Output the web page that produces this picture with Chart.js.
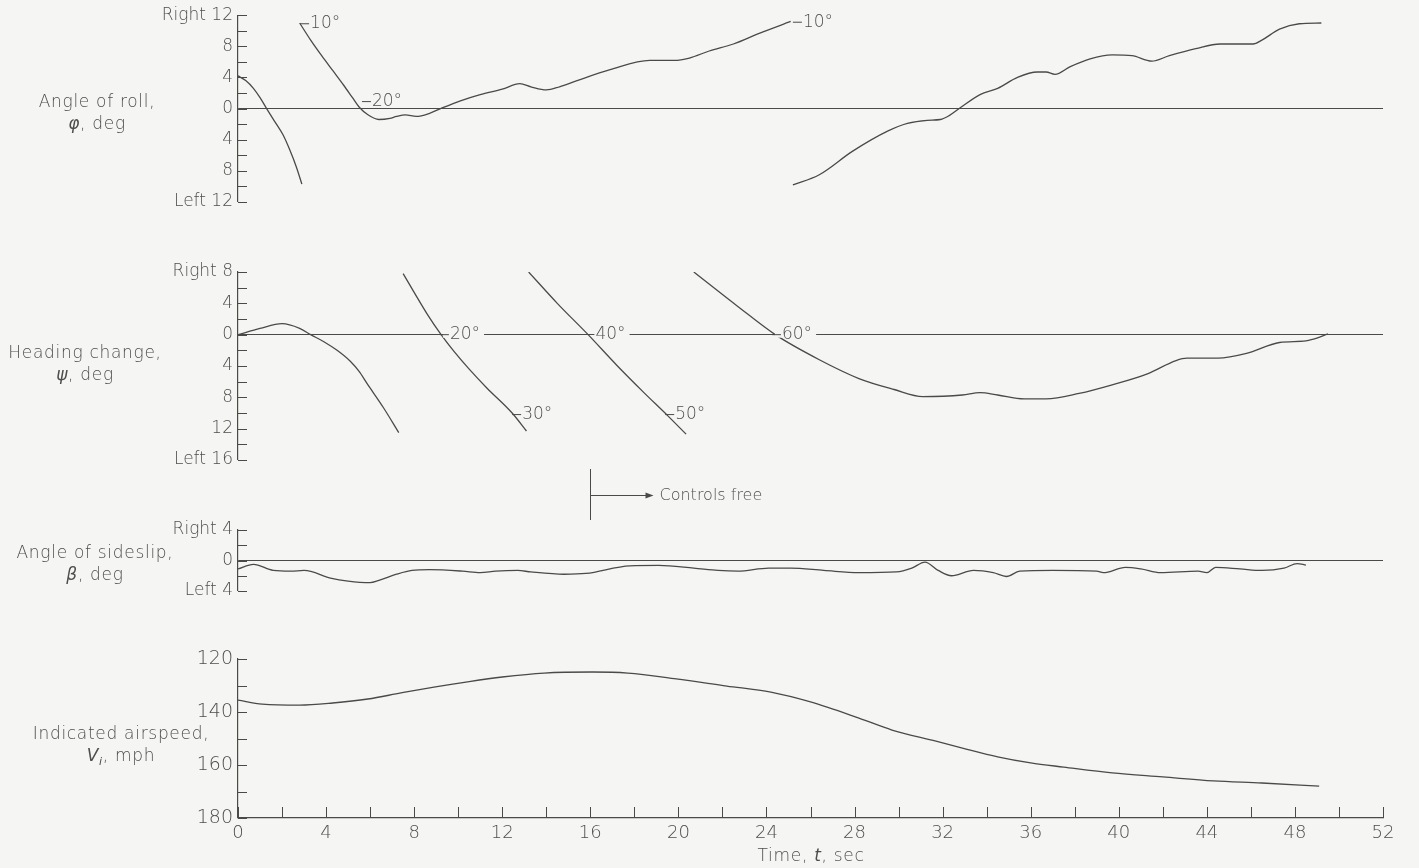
<!DOCTYPE html>
<html>
<head>
<meta charset="utf-8">
<script src="https://cdn.jsdelivr.net/npm/chart.js@4.4.1/dist/chart.umd.min.js"></script>
<style>
  html, body { margin: 0; padding: 0; background: #f5f5f3; }
  #page { position: relative; width: 1419px; height: 868px; overflow: hidden; background: #f5f5f3; }
  #page canvas { position: absolute; left: 0; }
  .lbl {
    position: absolute; text-align: center; color: #4e4e4c;
    font-family: "DejaVu Sans", sans-serif; font-weight: 300;
    font-size: 17px; line-height: 22px; letter-spacing: 0.7px;
  }
  .lbl sub { font-size: 11px; }
</style>
</head>
<body>
<div id="page">
  <canvas id="rollChart" width="1419" height="222" style="top:0px"></canvas>
  <canvas id="headingChart" width="1419" height="232" style="top:250px"></canvas>
  <canvas id="slipChart" width="1419" height="160" style="top:455px"></canvas>
  <canvas id="speedChart" width="1419" height="233" style="top:635px"></canvas>

  <div class="lbl" style="left:7px; top:90px; width:180px;">Angle of roll,<br><i>φ</i>, deg</div>
  <div class="lbl" style="left:0px; top:341px; width:170px;">Heading change,<br><i>ψ</i>, deg</div>
  <div class="lbl" style="left:5px; top:541px; width:180px;">Angle of sideslip,<br><i>β</i>, deg</div>
  <div class="lbl" style="left:21px; top:722px; width:200px;">Indicated airspeed,<br><i>V<sub>i</sub></i>, mph</div>
  <div class="lbl" style="left:711px; top:844px; width:200px;">Time, <i>t</i>, sec</div>
</div>

<script>
// Time axis
const T_MIN = 0, T_MAX = 52;
const CONTROLS_FREE_T = 16;

// Angle of roll, deg (right +, left -) -- three traced segments
const rollT1 = [0, 0.35, 0.7, 1.0, 1.3, 1.7, 2.05, 2.35, 2.65, 2.9];
const rollV1 = [4.2, 3.6, 2.6, 1.4, 0, -1.8, -3.4, -5.3, -7.5, -9.7];
const rollT2 = [2.8, 3.3, 3.8, 4.3, 4.8, 5.2, 5.5, 5.9, 6.4, 6.9, 7.2, 7.6, 8.1, 8.7, 9.2, 10.1, 11.0, 12.0, 12.8, 13.3, 14.0, 14.6, 15.4, 16.9, 18.7, 19.8, 20.5, 21.4, 22.5, 23.7, 25.1];
const rollV2 = [11.0, 8.8, 6.8, 4.9, 3.0, 1.4, 0.2, -0.8, -1.4, -1.25, -1.0, -0.8, -1.0, -0.6, 0.0, 1.0, 1.8, 2.5, 3.2, 2.8, 2.4, 2.8, 3.6, 5.0, 6.2, 6.2, 6.5, 7.4, 8.3, 9.7, 11.2];
const rollT3 = [25.2, 26.4, 27.9, 29.5, 30.4, 31.3, 31.9, 32.3, 32.8, 33.7, 34.5, 35.4, 36.3, 36.7, 37.1, 37.8, 38.7, 39.7, 40.6, 41.5, 42.3, 43.5, 44.6, 46.1, 46.5, 47.3, 48.2, 49.2];
const rollV3 = [-9.8, -8.5, -5.5, -2.9, -1.9, -1.5, -1.4, -0.9, 0.1, 1.8, 2.6, 4.0, 4.7, 4.7, 4.4, 5.4, 6.4, 6.9, 6.8, 6.1, 6.8, 7.7, 8.3, 8.3, 8.8, 10.2, 10.9, 11.0];

// Heading change, deg -- four traced segments
const headT1 = [0, 1.0, 2.0, 2.8, 3.3, 3.9, 4.5, 5.1, 5.5, 5.85, 6.6, 7.3];
const headV1 = [0, 0.8, 1.4, 0.8, 0, -0.9, -2.0, -3.4, -4.7, -6.2, -9.3, -12.5];
const headT2 = [7.5, 8.0, 8.6, 9.2, 9.8, 10.5, 11.3, 12.45, 13.1];
const headV2 = [7.8, 5.4, 2.6, 0.1, -2.1, -4.4, -6.8, -10.0, -12.3];
const headT3 = [13.2, 14.5, 15.9, 17.2, 18.4, 19.5, 20.35];
const headV3 = [8.0, 4.0, 0, -3.9, -7.3, -10.3, -12.7];
const headT4 = [20.7, 22.7, 24.4, 26.4, 28.2, 29.8, 31.1, 32.9, 33.7, 34.5, 35.7, 36.7, 38.2, 39.7, 41.3, 42.6, 43.1, 44.5, 45.8, 47.3, 48.5, 48.8, 49.5];
const headV4 = [8.0, 3.6, 0, -3.2, -5.6, -7.0, -7.9, -7.7, -7.4, -7.7, -8.2, -8.2, -7.5, -6.4, -5.0, -3.3, -3.0, -3.0, -2.4, -1.0, -0.8, -0.6, 0.1];

// Angle of sideslip, deg
const slipT = [0, 0.7, 1.6, 2.4, 3.0, 4.2, 5.0, 6.0, 6.4, 7.2, 7.9, 8.7, 10.2, 11.0, 11.7, 12.7, 13.3, 14.8, 15.8, 17.8, 19.1, 20.7, 21.8, 22.7, 24.1, 25.1, 26.6, 28.2, 29.9, 30.6, 31.2, 31.8, 32.4, 33.4, 34.3, 34.9, 35.5, 37.0, 39.0, 39.3, 40.3, 41.0, 41.9, 43.6, 44.0, 44.4, 45.5, 46.5, 47.5, 48.1, 48.5];
const slipV = [-1.1, -0.5, -1.3, -1.4, -1.3, -2.3, -2.7, -2.9, -2.6, -1.8, -1.3, -1.2, -1.4, -1.6, -1.4, -1.3, -1.5, -1.8, -1.7, -0.7, -0.65, -1.0, -1.3, -1.4, -1.0, -1.0, -1.3, -1.6, -1.5, -1.0, -0.2, -1.3, -2.0, -1.3, -1.6, -2.1, -1.4, -1.3, -1.4, -1.6, -0.9, -1.1, -1.6, -1.4, -1.6, -0.9, -1.1, -1.3, -1.0, -0.4, -0.6];

// Indicated airspeed, mph
const speedT = [0, 1.1, 2.8, 4.3, 5.9, 7.4, 8.9, 10.5, 12.0, 13.9, 16.1, 17.7, 19.9, 22.2, 24.2, 26.0, 28.2, 29.7, 31.7, 32.9, 34.5, 36.0, 37.5, 39.7, 42.0, 44.3, 46.5, 49.1];
const speedV = [135.5, 137, 137.4, 136.6, 135.1, 132.8, 130.6, 128.5, 126.8, 125.3, 124.9, 125.3, 127.5, 130.2, 132.5, 136.2, 142.3, 146.8, 151.0, 153.6, 156.9, 159.2, 160.8, 163, 164.5, 166, 166.8, 168];

// Angle notes written beside the traces (time, value, text)
const rollNotes = [
  { t: 2.82, v: 10.9, text: '10°', dash: true },
  { t: 5.63, v: 0.9, text: '20°', dash: true },
  { t: 25.2, v: 11.1, text: '10°', dash: true }
];
const headNotes = [
  { t: 9.17, v: 0, text: '20°', dash: true, cover: true },
  { t: 12.45, v: -10.2, text: '30°', dash: true },
  { t: 16.05, v: 0, text: '40°', dash: false, cover: true },
  { t: 19.4, v: -10.2, text: '50°', dash: true },
  { t: 24.25, v: 0, text: '60°', dash: true, cover: true }
];

const INK = '#4a4a48';
const TEXT = '#4e4e4c';
const PAPER = '#f5f5f3';
const FONT = '"DejaVu Sans", sans-serif';

function seg(ts, vs) {
  return {
    data: ts.map((t, i) => ({ x: t, y: vs[i] })),
    borderColor: INK,
    borderWidth: 1.3,
    pointRadius: 0,
    fill: false,
    cubicInterpolationMode: 'monotone'
  };
}

// short tick marks drawn inward from the axes, like the original plot
const innerTicks = {
  id: 'innerTicks',
  afterDraw(chart) {
    const ctx = chart.ctx;
    const xs = chart.scales.x, ys = chart.scales.y;
    ctx.save();
    ctx.strokeStyle = INK;
    ctx.lineWidth = 1;
    ctx.beginPath();
    ys.ticks.forEach(tk => {
      const py = Math.round(ys.getPixelForValue(tk.value)) + 0.5;
      ctx.moveTo(ys.right, py);
      ctx.lineTo(ys.right + 9, py);
    });
    if (xs.options.display) {
      xs.ticks.forEach(tk => {
        const px = Math.round(xs.getPixelForValue(tk.value)) + 0.5;
        ctx.moveTo(px, xs.top);
        ctx.lineTo(px, xs.top - 11);
      });
    }
    ctx.stroke();
    ctx.restore();
  }
};

const angleNotes = {
  id: 'angleNotes',
  afterDatasetsDraw(chart, args, opts) {
    const notes = opts.notes || [];
    const ctx = chart.ctx;
    const xs = chart.scales.x, ys = chart.scales.y;
    ctx.save();
    ctx.font = '300 17px ' + FONT;
    ctx.textBaseline = 'middle';
    ctx.textAlign = 'left';
    notes.forEach(n => {
      const px = xs.getPixelForValue(n.t);
      const py = ys.getPixelForValue(n.v);
      const tx = px + (n.dash ? 10 : 4);
      const w = ctx.measureText(n.text).width;
      if (n.cover) {
        ctx.fillStyle = PAPER;
        ctx.fillRect(px + 3, py - 3, tx - px + w + 1, 6);
      }
      if (n.dash) {
        ctx.strokeStyle = INK;
        ctx.lineWidth = 1;
        ctx.beginPath();
        ctx.moveTo(px, py);
        ctx.lineTo(px + 9, py);
        ctx.stroke();
      }
      ctx.fillStyle = TEXT;
      ctx.fillText(n.text, tx, py);
    });
    ctx.restore();
  }
};

// "Controls free" marker above the sideslip panel
const controlsFree = {
  id: 'controlsFree',
  afterDraw(chart, args, opts) {
    if (!opts.show) return;
    const ctx = chart.ctx;
    const px = Math.round(chart.scales.x.getPixelForValue(CONTROLS_FREE_T)) + 0.5;
    const top = chart.chartArea.top - 61, bottom = chart.chartArea.top - 10;
    const mid = Math.round((top + bottom) / 2) + 0.5;
    ctx.save();
    ctx.strokeStyle = INK;
    ctx.fillStyle = INK;
    ctx.lineWidth = 1;
    ctx.beginPath();
    ctx.moveTo(px, top);
    ctx.lineTo(px, bottom);
    ctx.moveTo(px, mid);
    ctx.lineTo(px + 58, mid);
    ctx.stroke();
    ctx.beginPath();
    ctx.moveTo(px + 63, mid);
    ctx.lineTo(px + 55, mid - 3);
    ctx.lineTo(px + 55, mid + 3);
    ctx.closePath();
    ctx.fill();
    ctx.fillStyle = TEXT;
    ctx.font = '300 16px ' + FONT;
    ctx.textBaseline = 'middle';
    ctx.fillText('Controls free', px + 69, mid);
    ctx.restore();
  }
};

function sideLabel(right, left, step) {
  return v => {
    if (v % step !== 0) return '';
    if (v > 0) return v === right ? 'Right ' + v : String(v);
    if (v < 0) return v === left ? 'Left ' + (-v) : String(-v);
    return '0';
  };
}

function makeChart(id, cfg) {
  const xScale = {
    type: 'linear',
    min: T_MIN,
    max: T_MAX,
    display: !!cfg.showX,
    grid: { display: false, drawTicks: false },
    border: { display: true, color: INK, width: 1.2 },
    ticks: {
      stepSize: 2,
      autoSkip: false,
      maxRotation: 0,
      padding: 5,
      color: TEXT,
      font: { family: FONT, size: 18, weight: 300 },
      callback: v => (v % 4 === 0 ? String(v) : '')
    }
  };
  if (cfg.showX) xScale.afterFit = s => { s.height = 50; };

  return new Chart(document.getElementById(id), {
    type: 'line',
    data: { datasets: cfg.datasets },
    options: {
      responsive: false,
      animation: false,
      events: [],
      layout: { padding: { top: cfg.padTop, bottom: cfg.padBottom, left: 0, right: 36 } },
      plugins: {
        legend: { display: false },
        tooltip: { enabled: false },
        angleNotes: { notes: cfg.notes || [] },
        controlsFree: { show: !!cfg.controlsFree }
      },
      scales: {
        x: xScale,
        y: {
          type: 'linear',
          min: cfg.min,
          max: cfg.max,
          reverse: !!cfg.reverse,
          afterFit: s => { s.width = 238; },
          grid: {
            drawTicks: false,
            color: c => (cfg.zeroLine && c.tick && c.tick.value === 0 ? INK : 'rgba(0,0,0,0)'),
            lineWidth: 1.1
          },
          border: { display: true, color: INK, width: 1.2 },
          ticks: {
            stepSize: cfg.step,
            autoSkip: false,
            padding: 5,
            color: TEXT,
            font: { family: FONT, size: cfg.fontSize || 17, weight: 300 },
            callback: cfg.label
          }
        }
      }
    },
    plugins: [innerTicks, angleNotes, controlsFree]
  });
}

makeChart('rollChart', {
  datasets: [seg(rollT1, rollV1), seg(rollT2, rollV2), seg(rollT3, rollV3)],
  min: -12, max: 12, step: 2, zeroLine: true,
  label: sideLabel(12, -12, 4),
  padTop: 14, padBottom: 20,
  notes: rollNotes
});

makeChart('headingChart', {
  datasets: [seg(headT1, headV1), seg(headT2, headV2), seg(headT3, headV3), seg(headT4, headV4)],
  min: -16, max: 8, step: 2, zeroLine: true,
  label: sideLabel(8, -16, 4),
  padTop: 22, padBottom: 22,
  notes: headNotes
});

makeChart('slipChart', {
  datasets: [seg(slipT, slipV)],
  min: -4, max: 4, step: 2, zeroLine: true,
  label: sideLabel(4, -4, 4),
  padTop: 75, padBottom: 24,
  controlsFree: true
});

makeChart('speedChart', {
  datasets: [seg(speedT, speedV)],
  min: 120, max: 180, step: 10, reverse: true, zeroLine: false,
  label: v => (v % 20 === 0 ? String(v) : ''),
  fontSize: 19,
  padTop: 24, padBottom: 0,
  showX: true
});
</script>
</body>
</html>
